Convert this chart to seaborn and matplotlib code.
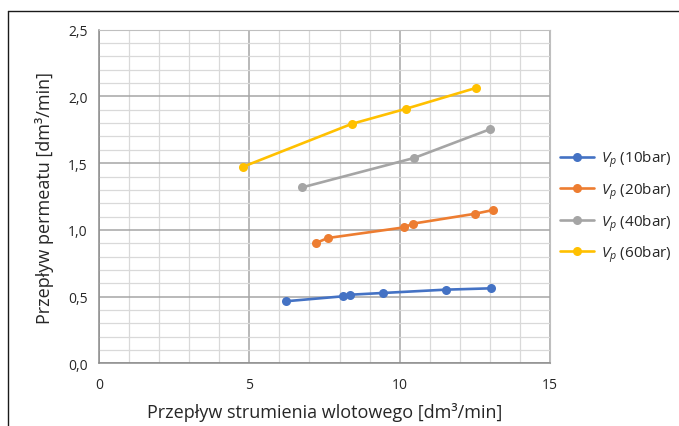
import pandas as pd
import numpy as np
import matplotlib.pyplot as plt
import seaborn as sns
from matplotlib.lines import Line2D
from matplotlib.ticker import FuncFormatter, MultipleLocator

x_10 = [6.21, 8.10, 8.35, 9.43, 11.53, 13.03]
y_10 = [0.465, 0.502, 0.514, 0.527, 0.552, 0.562]
x_20 = [7.22, 7.61, 10.15, 10.45, 12.51, 13.11]
y_20 = [0.902, 0.939, 1.019, 1.047, 1.121, 1.149]
x_40 = [6.75, 10.48, 13.00]
y_40 = [1.318, 1.539, 1.754]
x_60 = [4.80, 8.40, 10.20, 12.54]
y_60 = [1.474, 1.794, 1.907, 2.064]

labels = [r'$V_p$ (10bar)', r'$V_p$ (20bar)', r'$V_p$ (40bar)', r'$V_p$ (60bar)']
colors = ['#4472C4', '#ED7D31', '#A5A5A5', '#FFC000']

frames = []
for lab, xs, ys in zip(labels, [x_10, x_20, x_40, x_60], [y_10, y_20, y_40, y_60]):
    frames.append(pd.DataFrame({'x': xs, 'y': ys, 'seria': lab}))
df = pd.concat(frames, ignore_index=True)

sns.set_style('white')
plt.rcParams['font.family'] = ['Open Sans', 'DejaVu Sans']
plt.rcParams['mathtext.fontset'] = 'custom'
plt.rcParams['mathtext.rm'] = 'Open Sans'
plt.rcParams['mathtext.it'] = 'Open Sans:italic'

fig = plt.figure(figsize=(6.79, 4.27), dpi=100)
ax = fig.add_axes([0.1458, 0.1468, 0.81 - 0.1458, 0.928 - 0.1468])

sns.lineplot(data=df, x='x', y='y', hue='seria', palette=colors, marker='o',
             markersize=6.5, markeredgewidth=0, linewidth=1.9, ax=ax)

ax.set_xlim(0, 15)
ax.set_ylim(0, 2.5)
ax.xaxis.set_major_locator(MultipleLocator(5))
ax.xaxis.set_minor_locator(MultipleLocator(1))
ax.yaxis.set_major_locator(MultipleLocator(0.5))
ax.yaxis.set_minor_locator(MultipleLocator(0.1))
ax.yaxis.set_major_formatter(FuncFormatter(lambda v, _: f'{v:.1f}'.replace('.', ',')))
ax.xaxis.set_major_formatter(FuncFormatter(lambda v, _: f'{v:.0f}'))

ax.grid(which='major', color='#A6A6A6', linewidth=1.1)
ax.grid(which='minor', color='#D9D9D9', linewidth=0.9)
ax.set_axisbelow(True)

for side in ['top', 'right']:
    ax.spines[side].set_color('#BFBFBF')
for side in ['left', 'bottom']:
    ax.spines[side].set_color('#8C8C8C')
    ax.spines[side].set_linewidth(1.1)

ax.tick_params(axis='both', which='major', direction='out', length=4, width=1,
               color='#8C8C8C', labelsize=10, labelcolor='#262626', pad=4)
ax.tick_params(axis='x', which='major', pad=6)
ax.tick_params(axis='both', which='minor', length=0)

ax.set_xlabel('Przepływ strumienia wlotowego [dm³/min]', fontsize=13, color='#262626', labelpad=7)
ax.set_ylabel('Przepływ permeatu [dm³/min]', fontsize=13, color='#262626', labelpad=10)

ax.legend(loc='center left', bbox_to_anchor=(0.992, 0.47), frameon=False,
          fontsize=11, handlelength=2.2, labelspacing=0.72, handletextpad=0.5)

# ramka wykresu
fig.add_artist(Line2D([8 / 679, 1], [1 - 12 / 427, 1 - 12 / 427], color='#1a1a1a', linewidth=1))
fig.add_artist(Line2D([8 / 679, 8 / 679], [0, 1 - 12 / 427], color='#1a1a1a', linewidth=1))

fig.savefig('out.png', dpi=100)
